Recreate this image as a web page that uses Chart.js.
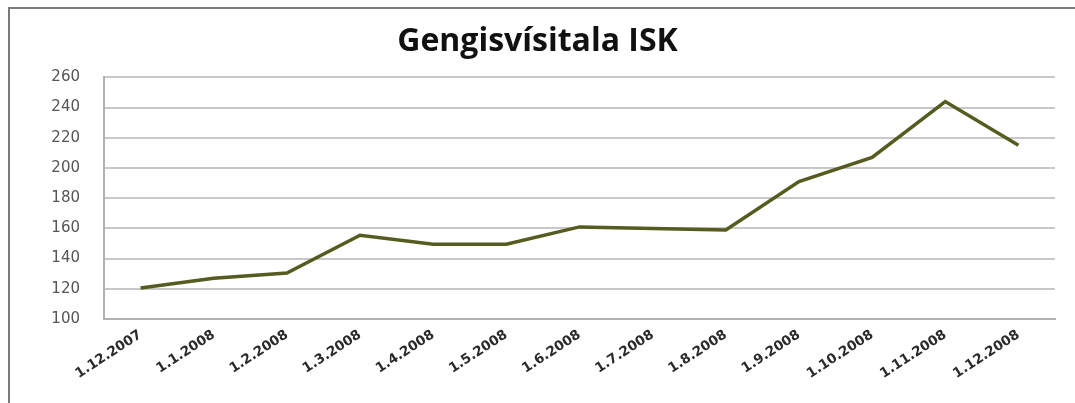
<!DOCTYPE html>
<html>
<head>
<meta charset="utf-8">
<script src="https://cdn.jsdelivr.net/npm/chart.js@4"></script>
<style>
  html, body { margin: 0; padding: 0; background: #fff; overflow: hidden; }
  #wrap { position: relative; width: 1075px; height: 403px; overflow: hidden; }
  #frame { position: absolute; left: 8px; top: 7px; width: 1100px; height: 420px;
           border-left: 2px solid #7a7a7a; border-top: 2px solid #7a7a7a; }
  canvas { position: absolute; left: 0; top: 0; }
</style>
</head>
<body>
<div id="wrap">
  <div id="frame"></div>
  <canvas id="chart" width="1075" height="403"></canvas>
</div>
<script>
// Categories (dates) and index values
const dates = ["1.12.2007", "1.1.2008", "1.2.2008", "1.3.2008", "1.4.2008", "1.5.2008",
  "1.6.2008", "1.7.2008", "1.8.2008", "1.9.2008", "1.10.2008", "1.11.2008", "1.12.2008"];
const values = [120.5, 127, 130.5, 155.5, 149.5, 149.5, 161, 160, 159, 191, 207, 244, 215];
const yTicks = [100, 120, 140, 160, 180, 200, 220, 240, 260];

const ctx = document.getElementById("chart").getContext("2d");

new Chart(ctx, {
  type: "line",
  data: {
    labels: dates,
    datasets: [{
      label: "Gengisvísitala ISK",
      data: values,
      borderColor: "#565b1f",
      borderWidth: 3.5,
      pointRadius: 0,
      tension: 0,
      fill: false
    }]
  },
  options: {
    responsive: false,
    animation: false,
    layout: { padding: { left: 20, right: 20, top: 0, bottom: 0 } },
    plugins: {
      legend: { display: false },
      tooltip: { enabled: false },
      title: {
        display: true,
        text: "Gengisvísitala ISK",
        color: "#111",
        font: { family: "Open Sans", size: 32, weight: "bold" },
        padding: { top: 23, bottom: 16 }
      }
    },
    scales: {
      x: {
        offset: true,
        grid: { display: false, drawTicks: false },
        border: { display: true, color: "#b0b0b0", width: 2 },
        ticks: {
          minRotation: 33,
          maxRotation: 33,
          autoSkip: false,
          padding: 8,
          color: "#2a2a2a",
          font: { family: "DejaVu Sans", size: 13.5, weight: "bold" }
        },
        afterFit: s => { s.height = 84; }
      },
      y: {
        min: 100,
        max: 260,
        afterBuildTicks: s => { s.ticks = yTicks.map(v => ({ value: v })); },
        grid: { color: "#c8c8c8", lineWidth: 2, drawTicks: false },
        border: { display: true, color: "#b0b0b0", width: 2 },
        ticks: {
          padding: 24,
          color: "#555",
          font: { family: "DejaVu Sans", size: 15 }
        },
        afterFit: s => { s.width = 84; }
      }
    }
  }
});
</script>
</body>
</html>
